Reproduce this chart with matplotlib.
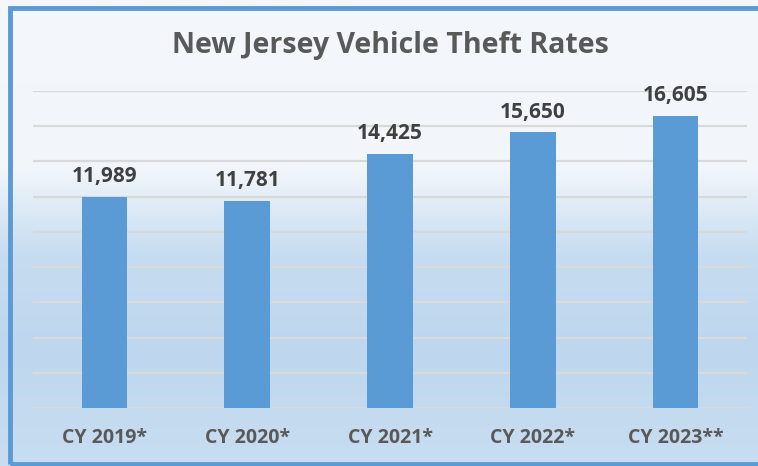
import matplotlib.pyplot as plt
from matplotlib.colors import LinearSegmentedColormap
from matplotlib.patches import Rectangle
import numpy as np

years = ['CY 2019*', 'CY 2020*', 'CY 2021*', 'CY 2022*', 'CY 2023**']
thefts = [11989, 11781, 14425, 15650, 16605]
title = 'New Jersey Vehicle Theft Rates'

W, H = 758, 466
fig = plt.figure(figsize=(W / 100, H / 100), dpi=100)

# gradient background: near white on top, light blue below
bg = fig.add_axes([0, 0, 1, 1], zorder=0)
cmap = LinearSegmentedColormap.from_list(
    'bg', [(0.0, '#F4F7FB'), (0.36, '#F2F6FB'), (0.55, '#C6DCF0'),
           (0.75, '#BED7EE'), (1.0, '#C8DDF1')])
grad = np.linspace(0, 1, 256).reshape(-1, 1)
bg.imshow(grad, aspect='auto', cmap=cmap, extent=[0, 1, 0, 1], origin='upper')
bg.set_xlim(0, 1)
bg.set_ylim(0, 1)
bg.axis('off')
bg.add_patch(Rectangle((10 / W, 2 / H), 1.2, (H - 10) / H, fill=False,
                       edgecolor='#5B9BD5', linewidth=3.5, transform=bg.transAxes,
                       clip_on=False))

ax = fig.add_axes([33 / W, (H - 408) / H, (747 - 33) / W, (408 - 91) / H], zorder=1)
ax.patch.set_alpha(0)
x = np.arange(len(years))
ax.bar(x, thefts, width=0.32, color='#5B9BD5', zorder=2)
ax.set_xlim(-0.5, len(years) - 0.5)
ax.set_ylim(0, 18000)
ax.set_yticks(np.arange(0, 18001, 2000))
ax.yaxis.grid(True, color='#D9D9D9', linewidth=1.6, zorder=0)
ax.set_axisbelow(True)
for s in ax.spines.values():
    s.set_visible(False)
ax.tick_params(left=False, labelleft=False, bottom=False)
ax.set_xticks(x)
ax.set_xticklabels(years, fontsize=14, color='#595959', fontweight='bold',
                   family='Open Sans')
ax.tick_params(axis='x', pad=11)

for xi, v in zip(x, thefts):
    ax.annotate(f'{v:,}', (xi, v), xytext=(0, 7), textcoords='offset points',
                ha='center', va='bottom', fontsize=15, fontweight='bold',
                color='#404040', family='Open Sans')

fig.text(390 / W, 1 - 46 / H, title, ha='center', va='center', fontsize=20.5,
         fontweight='bold', color='#595959', family='Open Sans')

fig.savefig('out.png', dpi=100)
